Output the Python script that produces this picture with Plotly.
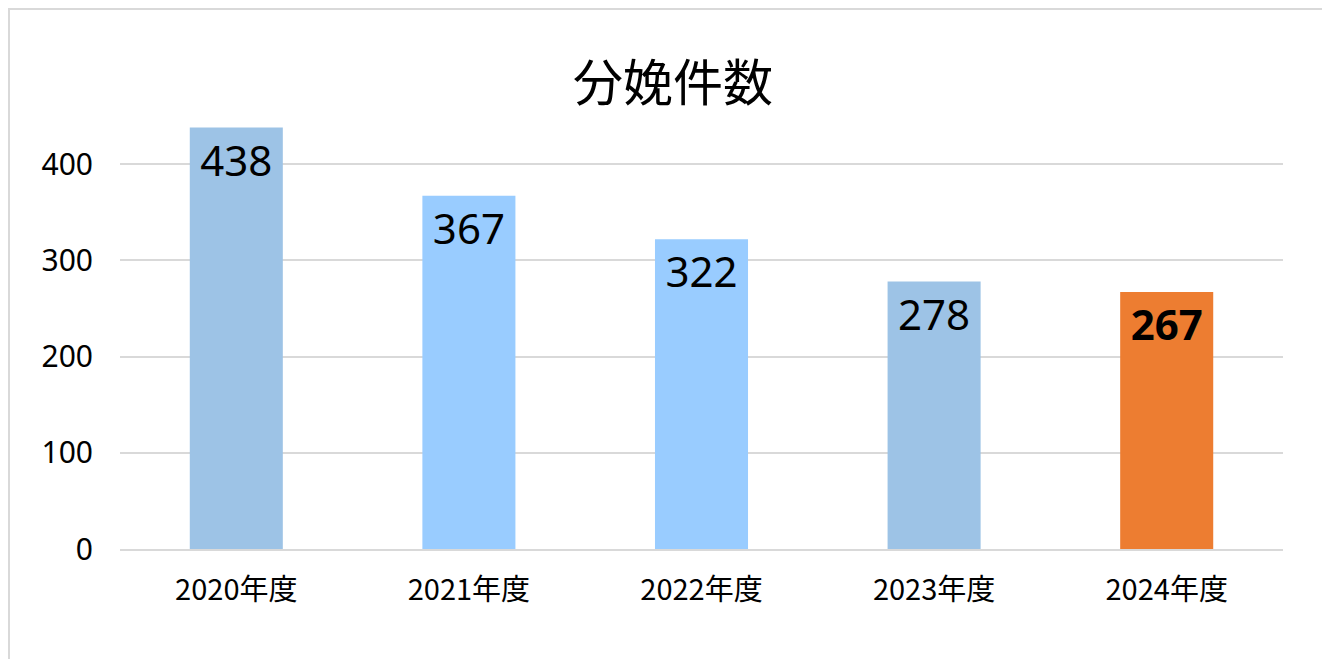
import plotly.graph_objects as go

# data
years = ['2020年度', '2021年度', '2022年度', '2023年度', '2024年度']
births = [438, 367, 322, 278, 267]
barColors = ['#9DC3E6', '#99CCFF', '#99CCFF', '#9DC3E6', '#ED7D31']
labelText = ['438', '367', '322', '278', '<b>267</b>']

font = 'Noto Sans CJK JP'

fig = go.Figure()
fig.add_trace(go.Bar(x=years, y=births, marker=dict(color=barColors, line=dict(width=0)),
                     width=0.4, text=labelText, textposition='inside', insidetextanchor='end',
                     textangle=0, textfont=dict(family='Noto Sans', size=42, color='black'),
                     cliponaxis=False))

# page is shifted by 8px body margin, so margins compensate
fig.update_layout(
    width=1330, height=659, plot_bgcolor='white', paper_bgcolor='white',
    margin=dict(l=112, r=55, t=108, b=118),
    title=dict(text='分娩件数', x=0.5, xanchor='center', y=0.885, yanchor='middle',
               font=dict(family=font, size=50, color='black')),
    showlegend=False,
    xaxis=dict(tickfont=dict(family=font, size=29, color='black'), showline=True,
               linecolor='#D9D9D9', linewidth=2, ticks='', ticklabelstandoff=14),
    yaxis=dict(range=[0, 450], tickvals=[0, 100, 200, 300, 400],
               tickfont=dict(family='Noto Sans', size=30, color='black'),
               gridcolor='#D9D9D9', gridwidth=2, zeroline=False, ticklabelstandoff=26),
    uniformtext=dict(minsize=10, mode='show'),
)
fig.add_shape(type='rect', xref='paper', yref='paper', x0=-111/1163, x1=1+54/1163,
              y0=-117/433, y1=1+107/433, line=dict(color='#D9D9D9', width=2))

fig.write_html('out.html')
